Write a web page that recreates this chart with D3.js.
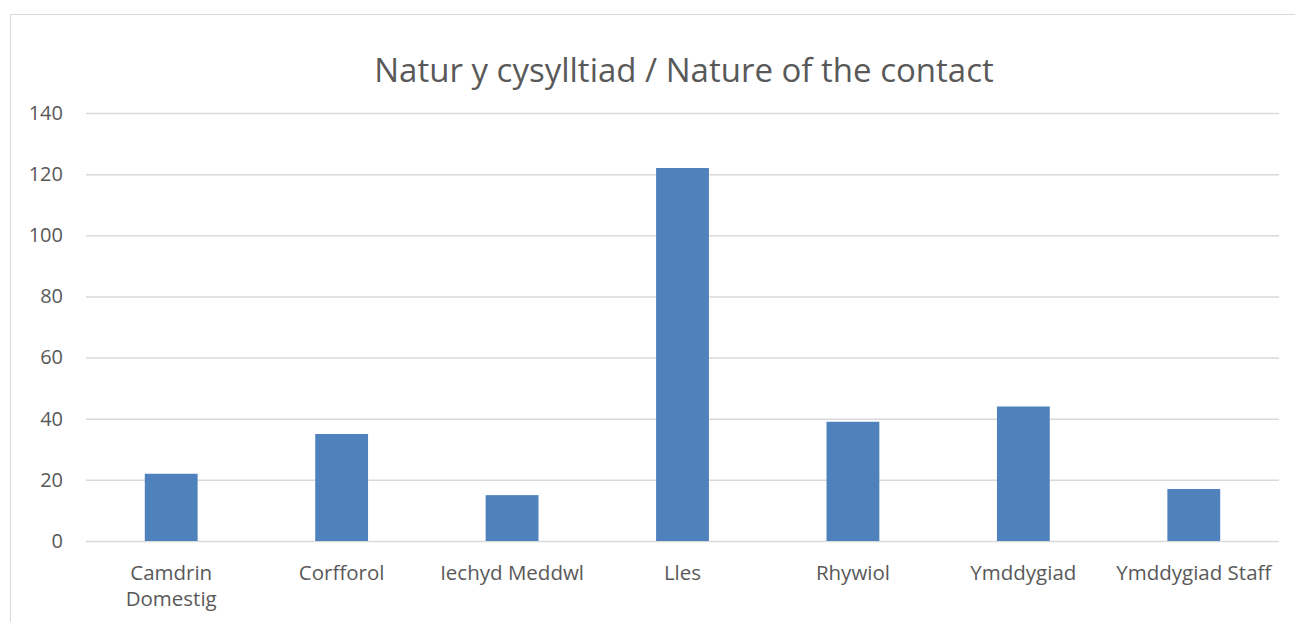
<!DOCTYPE html>
<html><head><meta charset="utf-8">
<script src="https://cdn.jsdelivr.net/npm/d3@7"></script>
<style>body{margin:0;background:#fff}svg{display:block}</style>
</head><body>
<svg id="c" width="1295" height="622"></svg>
<script>
const categories = [["Camdrin","Domestig"],["Corfforol"],["Iechyd Meddwl"],["Lles"],["Rhywiol"],["Ymddygiad"],["Ymddygiad Staff"]];
const values = [22, 35, 15, 122, 39, 44, 17];
const yTicks = [0, 20, 40, 60, 80, 100, 120, 140];
const title = "Natur y cysylltiad / Nature of the contact";

(function(){
const svg = d3.select("#c");
const font = "'Open Sans', Lato, sans-serif";
const pLeft = 86, pRight = 1279, pTop = 113, pBottom = 541;

svg.append("rect").attr("x",10.5).attr("y",14.5).attr("width",1300).attr("height",700)
  .attr("fill","#fff").attr("stroke","#d9d9d9").attr("stroke-width",1);

const x = d3.scaleBand().domain(categories.map(c=>c.join(" "))).range([pLeft,pRight]).paddingInner(0.69).paddingOuter(0.345);
const y = d3.scaleLinear().domain([0,140]).range([pBottom,pTop]);

const gy = svg.append("g").attr("transform",`translate(${pLeft},0)`)
  .call(d3.axisLeft(y).tickValues(yTicks).tickSize(-(pRight-pLeft)).tickPadding(23));
gy.select(".domain").remove();
gy.selectAll(".tick line").attr("stroke","#d9d9d9").attr("stroke-width",1.5);
gy.selectAll(".tick text").attr("fill","#595959").style("font-family",font).style("font-size","20px");

svg.append("g").selectAll("rect").data(values).join("rect")
  .attr("x",(d,i)=>x(categories[i].join(" ")))
  .attr("width",x.bandwidth())
  .attr("y",d=>y(d)).attr("height",d=>y(0)-y(d))
  .attr("fill","#4f81bd");

const gx = svg.append("g");
categories.forEach((c,i)=>{
  const cx = x(c.join(" ")) + x.bandwidth()/2;
  const t = gx.append("text").attr("x",cx).attr("y",580).attr("text-anchor","middle")
    .attr("fill","#595959").style("font-family",font).style("font-size","20.5px");
  c.forEach((line,j)=>t.append("tspan").attr("x",cx).attr("dy",j===0?0:26).text(line));
});

svg.append("text").attr("x",684).attr("y",82).attr("text-anchor","middle")
  .attr("fill","#595959").style("font-family",font).style("font-size","33px").text(title);
})();
</script>
</body></html>
